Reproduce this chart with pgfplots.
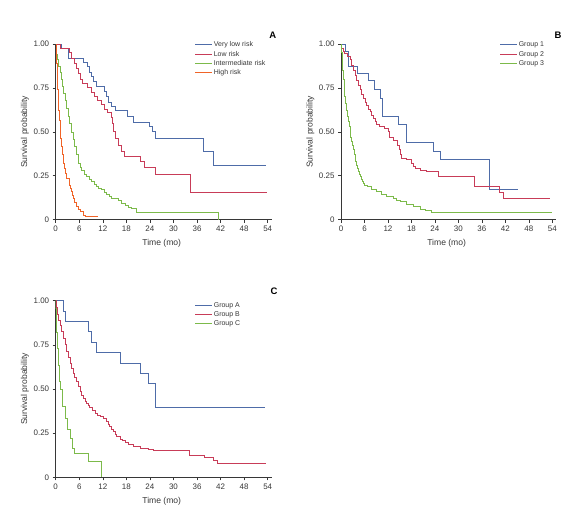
\documentclass[border=0pt]{standalone}
\usepackage{pgfplots}
\pgfplotsset{compat=1.18}
\usepackage{fontspec}
\setmainfont{Liberation Sans}
\definecolor{kmblue}{RGB}{78,108,168}
\definecolor{kmred}{RGB}{200,60,88}
\definecolor{kmgreen}{RGB}{124,186,74}
\definecolor{kmorange}{RGB}{240,100,40}
\definecolor{txt}{RGB}{55,55,55}
\pgfplotsset{
  km/.style={
    scale only axis,
    xmin=0, xmax=54, ymin=0, ymax=1,
    axis lines=left,
    axis line style={-, draw=txt, line width=0.7bp},
    x axis line style={shorten >=-4bp},
    tick align=outside,
    major tick length=3bp,
    tick style={draw=txt, line width=0.6bp},
    xtick={0,6,...,54},
    xticklabels={0,6,12,18,24,30,36,42,48,54},
    ytick={0,0.25,0.5,0.75,1},
    yticklabels={0,0.25,0.50,0.75,1.00},
    ticklabel style={font=\fontsize{8}{9}\selectfont, text=txt},
    label style={font=\fontsize{8.6}{10}\selectfont, text=txt},
    ylabel={Survival probability},
    xlabel={Time (mo)},
    ylabel style={at={(axis description cs:-0.145,0.5)}, anchor=center},
    xlabel style={at={(axis description cs:0.5,-0.133)}, anchor=center},
    legend cell align=left,
    legend image code/.code={\draw[##1] (0bp,0bp) -- (17bp,0bp);},
    legend style={draw=none, fill=none, anchor=north west, inner xsep=0pt, inner ysep=0pt,
      row sep=0pt, font=\fontsize{7}{8}\selectfont, text=txt,
      nodes={inner xsep=1.2bp, inner ysep=1.1bp, text height=5.5bp, text depth=1.5bp}},
    every axis plot/.append style={const plot, line width=0.9bp},
  }
}
\begin{document}
\begin{tikzpicture}
\useasboundingbox (0,0) rectangle (587bp,-517bp);
% ---------------- Panel A
\begin{axis}[km, at={(55.7bp,-219.7bp)}, anchor=south west, width=212bp, height=175.7bp,
  legend style={at={(0.655,1.022)}}]
\addplot[kmblue] coordinates {(0,1)(1.4,0.975)(3.3,0.92)(7.0,0.895)(8.0,0.87)(8.7,0.84)(9.2,0.815)(9.7,0.785)(10.4,0.76)(12.3,0.73)(12.9,0.70)(13.5,0.67)(14.3,0.645)(15.1,0.62)(18.4,0.59)(19.8,0.555)(23.8,0.53)(24.6,0.50)(25.3,0.46)(37.6,0.39)(40.3,0.31)(53.5,0.31)};
\addlegendentry{Very low risk}
\addplot[kmred] coordinates {(0,1)(1.1,0.975)(3.6,0.95)(3.9,0.92)(4.8,0.89)(5.4,0.86)(5.9,0.83)(6.3,0.80)(6.9,0.775)(8.2,0.75)(9.1,0.725)(9.9,0.70)(10.7,0.68)(11.6,0.655)(12.5,0.63)(13.3,0.61)(14.3,0.58)(14.5,0.55)(14.8,0.50)(15.1,0.46)(16.0,0.42)(16.8,0.39)(17.4,0.36)(21.5,0.33)(22.5,0.30)(25.3,0.26)(34.2,0.157)(53.7,0.157)};
\addlegendentry{Low risk}
\addplot[kmgreen] coordinates {(0,1)(0.1,0.97)(0.3,0.94)(0.5,0.91)(0.8,0.87)(1.1,0.84)(1.5,0.80)(1.8,0.76)(2.1,0.72)(2.4,0.68)(2.8,0.635)(3.2,0.59)(3.6,0.545)(4.1,0.495)(4.5,0.455)(4.9,0.415)(5.3,0.37)(5.8,0.32)(6.2,0.295)(6.6,0.28)(7.2,0.26)(7.9,0.245)(8.5,0.23)(9.2,0.215)(9.8,0.20)(10.4,0.19)(11.0,0.18)(11.7,0.17)(12.4,0.155)(13.0,0.145)(13.7,0.13)(14.3,0.12)(16.0,0.108)(16.8,0.095)(17.7,0.083)(18.6,0.072)(19.4,0.065)(20.6,0.044)(41.4,0)};
\addlegendentry{Intermediate risk}
\addplot[kmorange] coordinates {(0,1)(0.1,0.95)(0.2,0.89)(0.35,0.81)(0.5,0.74)(0.6,0.68)(0.75,0.62)(0.9,0.565)(1.1,0.51)(1.3,0.46)(1.5,0.415)(1.75,0.37)(2.0,0.32)(2.2,0.29)(2.4,0.264)(2.8,0.235)(3.4,0.216)(3.6,0.195)(3.8,0.178)(4.1,0.16)(4.3,0.14)(4.5,0.12)(4.7,0.10)(5.2,0.074)(5.7,0.06)(6.2,0.046)(7.0,0.027)(7.7,0.017)(10.8,0.017)};
\addlegendentry{High risk}
\end{axis}
% ---------------- Panel B
\begin{axis}[km, at={(341bp,-219.7bp)}, anchor=south west, width=211.3bp, height=175.7bp,
  legend style={at={(0.75,1.022)}}]
\addplot[kmblue] coordinates {(0,1)(1.2,0.958)(2.0,0.875)(4.1,0.833)(7.0,0.79)(8.5,0.74)(10.0,0.69)(10.6,0.59)(14.7,0.54)(16.8,0.44)(23.6,0.39)(25.3,0.345)(38.0,0.17)(45.3,0.17)};
\addlegendentry{Group 1}
\addplot[kmred] coordinates {(0,1)(0.1,0.975)(0.6,0.96)(1.0,0.947)(1.6,0.93)(2.3,0.91)(2.7,0.88)(3.2,0.85)(3.6,0.82)(4.0,0.795)(4.5,0.765)(4.9,0.74)(5.3,0.715)(5.7,0.69)(6.2,0.67)(6.6,0.65)(7.0,0.63)(7.4,0.615)(7.9,0.595)(8.3,0.577)(8.7,0.56)(9.1,0.54)(9.8,0.53)(11.2,0.52)(12.1,0.50)(12.5,0.47)(13.4,0.453)(14.4,0.425)(14.9,0.397)(15.2,0.37)(15.5,0.35)(16.8,0.343)(18.0,0.32)(18.5,0.305)(18.9,0.29)(20.2,0.283)(21.9,0.273)(24.9,0.245)(34.0,0.188)(40.5,0.157)(41.5,0.121)(53.4,0.121)};
\addlegendentry{Group 2}
\addplot[kmgreen] coordinates {(0,1)(0.1,0.95)(0.25,0.91)(0.4,0.85)(0.6,0.80)(0.8,0.75)(1.0,0.70)(1.2,0.66)(1.45,0.62)(1.7,0.59)(1.9,0.56)(2.1,0.53)(2.3,0.50)(2.5,0.47)(2.7,0.444)(2.9,0.42)(3.15,0.397)(3.4,0.37)(3.6,0.35)(3.8,0.33)(4.0,0.31)(4.2,0.29)(4.4,0.273)(4.6,0.26)(4.9,0.245)(5.2,0.23)(5.5,0.216)(5.8,0.205)(6.1,0.195)(6.7,0.188)(7.8,0.173)(9.1,0.16)(10.4,0.146)(11.7,0.135)(13.4,0.121)(14.2,0.11)(15.1,0.102)(16.8,0.087)(18.5,0.074)(20.2,0.061)(21.5,0.055)(23.2,0.04)(53.8,0.04)};
\addlegendentry{Group 3}
\end{axis}
% ---------------- Panel C
\begin{axis}[km, at={(55.7bp,-477.3bp)}, anchor=south west, width=212bp, height=176.6bp,
  legend style={at={(0.655,1.0)}}]
\addplot[kmblue] coordinates {(0,1)(2.0,0.941)(2.5,0.882)(8.3,0.824)(9.2,0.765)(10.3,0.706)(16.6,0.647)(21.7,0.588)(23.6,0.529)(25.3,0.397)(53.3,0.397)};
\addlegendentry{Group A}
\addplot[kmred] coordinates {(0,1)(0.1,0.96)(0.4,0.92)(0.7,0.89)(1.1,0.862)(1.5,0.825)(2.0,0.787)(2.4,0.75)(2.8,0.711)(3.2,0.68)(3.65,0.645)(4.1,0.615)(4.5,0.589)(4.9,0.565)(5.35,0.543)(5.8,0.515)(6.2,0.485)(6.6,0.465)(7.0,0.447)(7.5,0.432)(7.9,0.419)(8.3,0.405)(8.7,0.394)(9.3,0.38)(10.0,0.362)(10.7,0.35)(11.3,0.343)(12.1,0.334)(13.0,0.315)(13.4,0.30)(13.8,0.287)(14.3,0.272)(14.7,0.258)(15.1,0.245)(15.5,0.23)(16.4,0.217)(17.1,0.208)(17.7,0.20)(18.5,0.187)(19.8,0.174)(21.5,0.164)(23.6,0.158)(24.9,0.15)(34.0,0.124)(37.8,0.113)(40.2,0.096)(41.3,0.079)(53.5,0.079)};
\addlegendentry{Group B}
\addplot[kmgreen] coordinates {(0,1)(0.05,0.955)(0.1,0.909)(0.2,0.864)(0.3,0.818)(0.4,0.773)(0.55,0.727)(0.65,0.682)(0.8,0.636)(0.95,0.591)(1.0,0.545)(1.1,0.5)(1.7,0.40)(2.4,0.334)(3.1,0.27)(3.8,0.22)(4.3,0.165)(4.7,0.136)(8.3,0.09)(11.7,0)};
\addlegendentry{Group C}
\end{axis}
\node[font=\bfseries\fontsize{9.5}{10}\selectfont, text=black] at (272.7bp,-35bp) {A};
\node[font=\bfseries\fontsize{9.5}{10}\selectfont, text=black] at (558bp,-35bp) {B};
\node[font=\bfseries\fontsize{9.5}{10}\selectfont, text=black] at (274bp,-291.7bp) {C};
\end{tikzpicture}
\end{document}
